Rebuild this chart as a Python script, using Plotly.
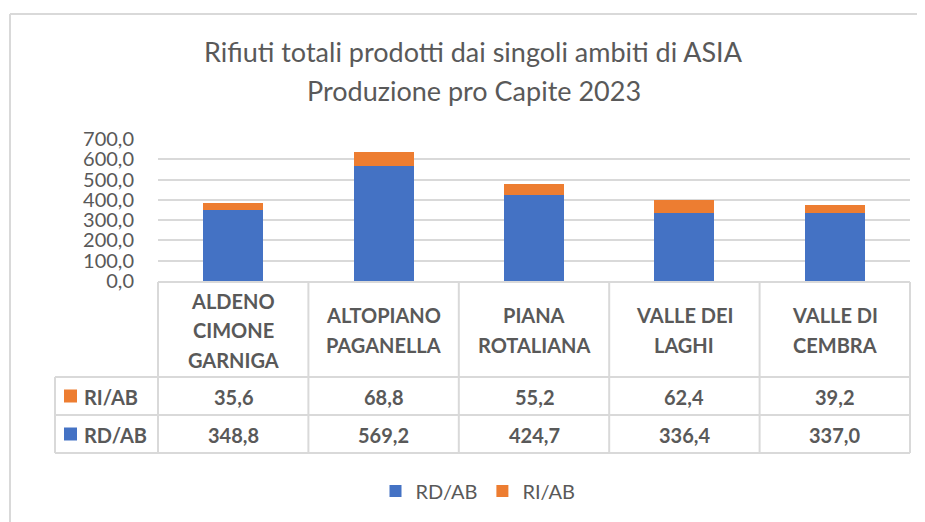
import plotly.graph_objects as go

categories = ["ALDENO CIMONE GARNIGA", "ALTOPIANO PAGANELLA", "PIANA ROTALIANA",
              "VALLE DEI LAGHI", "VALLE DI CEMBRA"]
category_lines = [["ALDENO", "CIMONE", "GARNIGA"], ["ALTOPIANO", "PAGANELLA"],
                  ["PIANA", "ROTALIANA"], ["VALLE DEI", "LAGHI"], ["VALLE DI", "CEMBRA"]]
rd_ab = [348.8, 569.2, 424.7, 336.4, 337.0]
ri_ab = [35.6, 68.8, 55.2, 62.4, 39.2]
series_names = ["RD/AB", "RI/AB"]
y_ticks = [0, 100, 200, 300, 400, 500, 600, 700]

W, H = 925, 522
OFF = 8  # page body margin
BLUE, ORANGE = "#4472C4", "#ED7D31"
TXT = "#595959"
GRID = "#D9D9D9"
FONT = "Lato"


def px(x):
    return (x - OFF) / W


def py(y):
    return 1 - (y - OFF) / H


fmt = lambda v: f"{v:.1f}".replace(".", ",")

fig = go.Figure()
fig.add_trace(go.Bar(name=series_names[0], x=categories, y=rd_ab, marker_color=BLUE,
                     marker_line_width=0, hoverinfo="skip"))
fig.add_trace(go.Bar(name=series_names[1], x=categories, y=ri_ab, marker_color=ORANGE,
                     marker_line_width=0, hoverinfo="skip"))

x0, x1 = 158, 910
y_top, y_zero = 139, 281

shapes = []
line = dict(color=GRID, width=2)
# outer frame (top and left)
shapes.append(dict(type="line", xref="paper", yref="paper", x0=px(10), x1=px(940),
                   y0=py(14), y1=py(14), line=line))
shapes.append(dict(type="line", xref="paper", yref="paper", x0=px(10), x1=px(10),
                   y0=py(14), y1=py(540), line=line))
# table horizontal lines
shapes.append(dict(type="line", xref="paper", yref="paper", x0=px(x0), x1=px(x1),
                   y0=py(282), y1=py(282), line=line))
for yy in (377, 415, 453):
    shapes.append(dict(type="line", xref="paper", yref="paper", x0=px(55), x1=px(x1),
                       y0=py(yy), y1=py(yy), line=line))
# table vertical lines
ncat = len(categories)
for i in range(ncat + 1):
    xx = x0 + (x1 - x0) * i / ncat
    shapes.append(dict(type="line", xref="paper", yref="paper", x0=px(xx), x1=px(xx),
                       y0=py(282), y1=py(453), line=line))
shapes.append(dict(type="line", xref="paper", yref="paper", x0=px(55), x1=px(55),
                   y0=py(377), y1=py(453), line=line))
# legend keys inside table
for yc, col in ((396, ORANGE), (434, BLUE)):
    shapes.append(dict(type="rect", xref="paper", yref="paper", x0=px(64), x1=px(77),
                       y0=py(yc - 6.5), y1=py(yc + 6.5), fillcolor=col, line_width=0))

TS = 20
LS = 29.5
ann = []
for i, c in enumerate(categories):
    lines = category_lines[i]
    n = len(lines)
    for k, t in enumerate(lines):
        yc = 330 + (k - (n - 1) / 2) * LS
        ann.append(dict(x=c, xref="x", y=py(yc), yref="paper", text=f"<b>{t}</b>",
                        showarrow=False, font=dict(family=FONT, size=TS, color=TXT),
                        yanchor="middle", xanchor="center"))
    ann.append(dict(x=c, xref="x", y=py(397), yref="paper", text=f"<b>{fmt(ri_ab[i])}</b>",
                    showarrow=False, font=dict(family=FONT, size=TS, color=TXT), yanchor="middle"))
    ann.append(dict(x=c, xref="x", y=py(435), yref="paper", text=f"<b>{fmt(rd_ab[i])}</b>",
                    showarrow=False, font=dict(family=FONT, size=TS, color=TXT), yanchor="middle"))
for yc, name in ((397, series_names[1]), (435, series_names[0])):
    ann.append(dict(x=px(82), xref="paper", y=py(yc), yref="paper", text=f"<b>{name}</b>",
                    showarrow=False, font=dict(family=FONT, size=TS, color=TXT),
                    xanchor="left", yanchor="middle"))
# title
ann.append(dict(x=px(474), xref="paper", y=py(51), yref="paper",
                text="Rifiuti totali prodotti dai singoli ambiti di ASIA", showarrow=False,
                font=dict(family=FONT, size=27, color=TXT), yanchor="middle"))
ann.append(dict(x=px(474), xref="paper", y=py(90), yref="paper",
                text="Produzione pro Capite 2023", showarrow=False,
                font=dict(family=FONT, size=27, color=TXT), yanchor="middle"))

fig.update_layout(
    width=W, height=H, margin=dict(l=0, r=0, t=0, b=0, autoexpand=False),
    paper_bgcolor="white", plot_bgcolor="white",
    barmode="stack", bargap=0.6,
    separators=",.",
    font=dict(family=FONT, color=TXT),
    shapes=shapes, annotations=ann,
    showlegend=True,
    legend=dict(orientation="h", x=px(478), xanchor="center", y=py(491), yanchor="middle",
                font=dict(family=FONT, size=20, color=TXT), traceorder="normal",
                itemwidth=30, itemclick=False, itemdoubleclick=False),
    xaxis=dict(domain=[px(x0), px(x1)], showticklabels=False, showgrid=False, zeroline=False,
               showline=False, ticks="", fixedrange=True),
    yaxis=dict(domain=[py(y_zero), py(y_top)], range=[0, 700], tickvals=y_ticks,
               tickformat=".1f", showgrid=True, gridcolor=GRID, gridwidth=2, zeroline=False,
               showline=False, ticks="", ticklabelstandoff=23,
               tickfont=dict(family=FONT, size=20, color=TXT), fixedrange=True),
)

fig.write_html("out.html", config={"displayModeBar": False})
